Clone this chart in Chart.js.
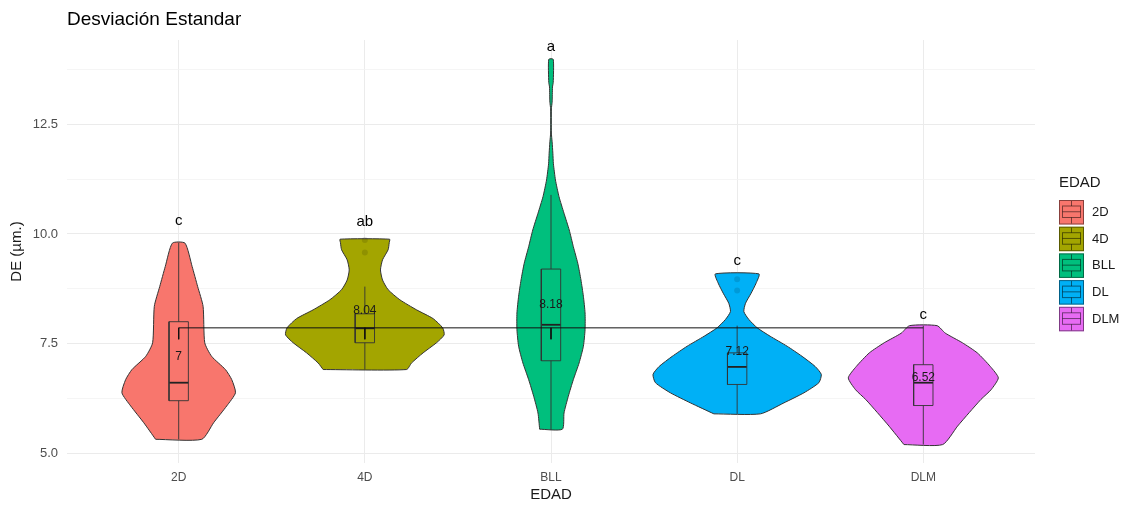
<!DOCTYPE html>
<html lang="es">
<head>
<meta charset="UTF-8">
<title>Desviación Estandar</title>
<script src="https://cdn.jsdelivr.net/npm/chart.js@4.4.1/dist/chart.umd.min.js"></script>
<style>
  html, body { margin: 0; padding: 0; background: #fff; }
  #wrap { width: 1127px; height: 507px; }
</style>
</head>
<body>
<div id="wrap"><canvas id="de_chart"></canvas></div>
<script>
// grupos de edad y colores
const GROUPS = ['2D', '4D', 'BLL', 'DL', 'DLM'];
const COLORS = ['#F8766D', '#A3A500', '#00BF7D', '#00B0F6', '#E76BF3'];

// perfil de cada violin: niveles de DE y semiancho (unidades de categoria)
const LEVELS_2D = [5.32, 5.70, 6.08, 6.38, 6.68, 6.91, 7.21, 7.52, 8.35, 8.80, 9.26, 9.79];
const WIDTH_2D  = [0.124, 0.188, 0.258, 0.305, 0.285, 0.251, 0.177, 0.140, 0.131, 0.102, 0.072, 0.034];
const LEVELS_4D = [6.91, 7.06, 7.29, 7.52, 7.70, 7.86, 8.07, 8.27, 8.50, 8.73, 8.95, 9.18, 9.41, 9.64, 9.80, 9.88];
const WIDTH_4D  = [0.224, 0.251, 0.313, 0.385, 0.426, 0.418, 0.367, 0.278, 0.188, 0.125, 0.095, 0.084, 0.095, 0.125, 0.131, 0.133];
const LEVELS_BLL = [5.55, 5.92, 6.30, 6.68, 7.06, 7.44, 7.82, 8.20, 8.58, 8.95, 9.33, 9.71, 10.09, 10.47, 10.85, 11.23, 11.60, 11.84, 12.10, 12.30, 12.85, 13.00, 13.35, 13.45, 13.98];
const WIDTH_BLL  = [0.061, 0.070, 0.093, 0.120, 0.151, 0.174, 0.183, 0.183, 0.174, 0.161, 0.144, 0.120, 0.098, 0.070, 0.043, 0.024, 0.013, 0.010, 0.006, 0.002, 0.002, 0.006, 0.008, 0.012, 0.012];
const LEVELS_DL = [5.90, 6.15, 6.38, 6.61, 6.80, 6.98, 7.21, 7.44, 7.67, 7.86, 8.05, 8.23, 8.42, 8.65, 8.88, 9.09];
const WIDTH_DL  = [0.125, 0.251, 0.359, 0.439, 0.452, 0.419, 0.349, 0.269, 0.177, 0.108, 0.063, 0.036, 0.045, 0.075, 0.102, 0.117];
const LEVELS_DLM = [5.20, 5.62, 5.93, 6.23, 6.45, 6.72, 6.98, 7.29, 7.52, 7.74, 7.91];
const WIDTH_DLM  = [0.104, 0.184, 0.247, 0.310, 0.364, 0.403, 0.360, 0.290, 0.210, 0.118, 0.074];

// resumen de cajas
const WHISK_LO = [5.32, 6.91, 5.53, 5.90, 5.20];
const Q1       = [6.20, 7.52, 7.11, 6.57, 6.09];
const MEDIAN   = [6.61, 7.85, 7.93, 6.97, 6.61];
const Q3       = [8.00, 8.18, 9.20, 7.29, 7.02];
const WHISK_HI = [9.80, 8.80, 10.89, 7.91, 7.91];
const OUTLIERS = [[], [9.58, 9.86], [], [8.97, 8.71], []];
const MEANS    = [7, 8.04, 8.18, 7.12, 6.52];

// letras de comparacion (Tukey)
const LETTERS  = ['c', 'ab', 'a', 'c', 'c'];
const LETTER_Y = [10.30, 10.27, 14.27, 9.39, 8.16];

// linea de referencia
const REF_Y = 7.86;
const REF_DROP = [7.60, 7.60, 7.60, null, null];

// ejes
const Y_TICKS = [5, 6.25, 7.5, 8.75, 10, 11.25, 12.5, 13.75];
const Y_MAJOR = [5, 7.5, 10, 12.5];

const BOX_HALF = 0.052;
const FONT = '"Liberation Sans", Arial, sans-serif';
Chart.defaults.font.family = FONT;

const profiles = [
  [LEVELS_2D, WIDTH_2D], [LEVELS_4D, WIDTH_4D], [LEVELS_BLL, WIDTH_BLL],
  [LEVELS_DL, WIDTH_DL], [LEVELS_DLM, WIDTH_DLM]
];

function violinPoints(c, levels, widths) {
  const left = levels.map((v, k) => ({x: c - widths[k], y: v}));
  const right = levels.map((v, k) => ({x: c + widths[k], y: v})).reverse();
  return left.concat(right, [left[0]]);
}

function boxPoints(i) {
  const c = i + 1, b = BOX_HALF, gap = {x: c, y: null};
  return [
    {x: c, y: WHISK_LO[i]}, {x: c, y: Q1[i]}, gap,
    {x: c - b, y: Q1[i]}, {x: c + b, y: Q1[i]}, {x: c + b, y: Q3[i]},
    {x: c - b, y: Q3[i]}, {x: c - b, y: Q1[i]}, gap,
    {x: c, y: Q3[i]}, {x: c, y: WHISK_HI[i]}
  ];
}

const datasets = [];
GROUPS.forEach((g, i) => {
  datasets.push({
    data: violinPoints(i + 1, profiles[i][0], profiles[i][1]),
    showLine: true, fill: 'shape', backgroundColor: COLORS[i], tension: 0.2,
    borderColor: '#333333', borderWidth: 1, pointRadius: 0, order: 5
  });
  datasets.push({
    data: boxPoints(i), showLine: true, fill: false,
    borderColor: '#333333', borderWidth: 0.9, pointRadius: 0, order: 3
  });
  datasets.push({
    data: [{x: i + 1 - BOX_HALF, y: MEDIAN[i]}, {x: i + 1 + BOX_HALF, y: MEDIAN[i]}],
    showLine: true, fill: false, borderColor: '#222222', borderWidth: 1.8, pointRadius: 0, order: 3
  });
  if (OUTLIERS[i].length) {
    datasets.push({
      data: OUTLIERS[i].map(v => ({x: i + 1, y: v})),
      showLine: false, pointRadius: 3, pointBorderWidth: 0,
      pointBackgroundColor: 'rgba(0,0,0,0.12)', order: 4
    });
  }
});

// linea horizontal y caidas
const refPts = [{x: 1, y: REF_Y}, {x: GROUPS.length, y: REF_Y}];
REF_DROP.forEach((d, i) => {
  if (d !== null) refPts.push({x: i + 1, y: null}, {x: i + 1, y: REF_Y}, {x: i + 1, y: d});
});
datasets.push({
  data: refPts, showLine: true, fill: false,
  borderColor: '#111111', borderWidth: 1, pointRadius: 0, order: 1
});

const annotate = {
  id: 'annotate',
  afterDatasetsDraw(chart) {
    const {ctx, scales: {x, y}} = chart;
    ctx.save();
    ctx.textAlign = 'center';
    ctx.textBaseline = 'middle';
    ctx.fillStyle = '#1a1a1a';
    ctx.font = '12px ' + FONT;
    MEANS.forEach((m, i) => ctx.fillText(String(m), x.getPixelForValue(i + 1), y.getPixelForValue(m) - 9));
    ctx.fillStyle = '#000';
    ctx.font = '15px ' + FONT;
    LETTERS.forEach((l, i) => ctx.fillText(l, x.getPixelForValue(i + 1), y.getPixelForValue(LETTER_Y[i])));
    ctx.restore();
  },
  afterDraw(chart) {
    const {ctx, chartArea} = chart;
    ctx.save();
    // titulo
    ctx.fillStyle = '#000';
    ctx.textAlign = 'left';
    ctx.textBaseline = 'middle';
    ctx.font = '19px ' + FONT;
    ctx.fillText('Desviación Estandar', chartArea.left, 20);

    // leyenda
    const lx = 1059, top = 200, kw = 25, kh = 24.5, step = 26.7;
    ctx.font = '15px ' + FONT;
    ctx.fillStyle = '#1a1a1a';
    ctx.fillText('EDAD', lx, 183);
    ctx.font = '13px ' + FONT;
    GROUPS.forEach((g, i) => {
      const ky = top + i * step;
      ctx.fillStyle = COLORS[i];
      ctx.fillRect(lx, ky, kw, kh);
      ctx.strokeStyle = 'rgba(0,0,0,0.45)';
      ctx.lineWidth = 1;
      ctx.strokeRect(lx + 0.5, ky + 0.5, kw - 1, kh - 1);
      // glifo de caja
      const bx = lx + 3.5, bw = kw - 7, b1 = ky + 6, b2 = ky + kh - 7, cx = lx + kw / 2;
      ctx.strokeStyle = 'rgba(0,0,0,0.5)';
      ctx.strokeRect(bx, b1, bw, b2 - b1);
      ctx.beginPath();
      ctx.moveTo(bx, (b1 + b2) / 2); ctx.lineTo(bx + bw, (b1 + b2) / 2);
      ctx.moveTo(cx, ky + 1); ctx.lineTo(cx, b1);
      ctx.moveTo(cx, b2); ctx.lineTo(cx, ky + kh - 1);
      ctx.stroke();
      ctx.fillStyle = '#1a1a1a';
      ctx.fillText(g, 1092, ky + kh / 2);
    });
    ctx.restore();
  }
};

new Chart(document.getElementById('de_chart'), {
  type: 'scatter',
  data: { datasets },
  plugins: [annotate],
  options: {
    responsive: true,
    maintainAspectRatio: false,
    animation: false,
    events: [],
    layout: { padding: { top: 40, right: 92, bottom: 0, left: 0 } },
    plugins: { legend: { display: false }, tooltip: { enabled: false } },
    scales: {
      x: {
        type: 'linear', min: 0.4, max: 5.6,
        afterBuildTicks: s => { s.ticks = GROUPS.map((g, i) => ({value: i + 1})); },
        afterFit: s => { s.height = 44; },
        grid: { color: '#ebebeb', lineWidth: 1, drawTicks: false },
        border: { display: false },
        ticks: { padding: 7, color: '#4d4d4d', font: { size: 12 }, autoSkip: false, maxRotation: 0,
                 callback: v => GROUPS[v - 1] },
        title: { display: true, text: 'EDAD', color: '#1a1a1a', font: { size: 15 }, padding: { top: 0, bottom: 3 } }
      },
      y: {
        type: 'linear', min: 4.78, max: 14.42,
        afterBuildTicks: s => { s.ticks = Y_TICKS.map(v => ({value: v})); },
        afterFit: s => { s.width = 67; },
        grid: { drawTicks: false,
                color: c => (c.tick && Y_MAJOR.includes(c.tick.value)) ? '#ebebeb' : '#f3f3f3',
                lineWidth: c => (c.tick && Y_MAJOR.includes(c.tick.value)) ? 1 : 0.8 },
        border: { display: false },
        ticks: { padding: 9, color: '#4d4d4d', font: { size: 13 }, autoSkip: false,
                 callback: v => Y_MAJOR.includes(v) ? v.toFixed(1) : '' },
        title: { display: true, text: 'DE (µm.)', color: '#1a1a1a', font: { size: 15 }, padding: { top: 8, bottom: 0 } }
      }
    }
  }
});
</script>
</body>
</html>
